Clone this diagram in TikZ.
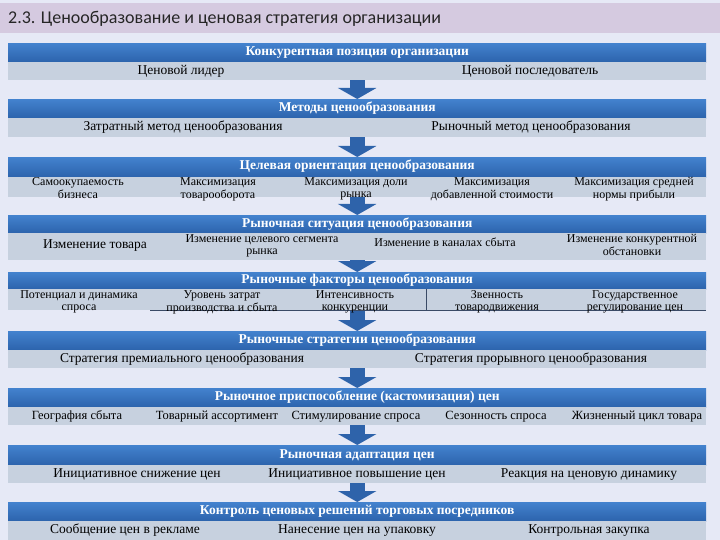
\documentclass[tikz,border=0pt]{standalone}
\usepackage{fontspec}
\setmainfont{Liberation Serif}
\newfontfamily\titlefont{Carlito}
\usetikzlibrary{arrows.meta}
\definecolor{bgc}{HTML}{E6E9F6}
\definecolor{titlec}{HTML}{D5CAE0}
\definecolor{hdrtop}{HTML}{4382CE}
\definecolor{hdrbot}{HTML}{2C63AC}
\definecolor{subc}{HTML}{C7D1DF}
\definecolor{arrc}{HTML}{2E63AA}
\definecolor{sepc}{HTML}{3A4A66}
\tikzset{
  hdr/.style={draw=none, top color=hdrtop, bottom color=hdrbot, minimum width=698pt,
    inner sep=0pt, text=white, font=\fontsize{13.5}{14}\selectfont\bfseries, anchor=north west,
    execute at begin node=\strut},
  subrow/.style={draw=none, fill=subc, minimum width=698pt, inner sep=0pt, anchor=north west},
  it/.style={font=\fontsize{13.5}{15}\selectfont, inner sep=0pt, text height=9.5pt, text depth=3.5pt},
  itm/.style={font=\fontsize{12.5}{14}\selectfont, inner sep=0pt, text height=9pt, text depth=3pt},
  it2/.style={font=\fontsize{12}{12}\selectfont, align=center, inner sep=0pt, anchor=north},
  arr/.style={draw=arrc, line width=15pt, -{Triangle[width=38pt,length=11pt]}},
  sepline/.style={draw=sepc, line width=0.6pt}
}
\newcommand\twol[2]{\strut#1\\\strut#2}
\begin{document}
\begin{tikzpicture}[x=1pt,y=-1pt]
\useasboundingbox (0,0) rectangle (720,540);
\fill[bgc] (0,0) rectangle (720,540);
\fill[titlec] (0,3) rectangle (720,33);
\node[anchor=west, inner sep=0pt, text=black!85, font=\titlefont\fontsize{18}{20}\selectfont] (title) at (8,19) {2.3. Ценообразование и ценовая стратегия организации};

% Header bars and rows
\node[hdr, minimum height=19pt] (h1) at (8,43) {Конкурентная позиция организации};
\node[subrow, minimum height=18pt] (s1) at (8,62) {};
\node[hdr, minimum height=19pt] (h2) at (8,99) {Методы ценообразования};
\node[subrow, minimum height=19pt] (s2) at (8,118) {};
\node[hdr, minimum height=20pt] (h3) at (8,157) {Целевая ориентация ценообразования};
\node[subrow, minimum height=20pt] (s3) at (8,177) {};
\node[hdr, minimum height=18pt] (h4) at (8,215) {Рыночная ситуация ценообразования};
\node[subrow, minimum height=27pt] (s4) at (8,233) {};
\node[hdr, minimum height=17pt] (h5) at (8,272) {Рыночные факторы ценообразования};
\node[subrow, minimum height=21pt] (s5) at (8,289) {};
\node[hdr, minimum height=19pt] (h6) at (8,331) {Рыночные стратегии ценообразования};
\node[subrow, minimum height=18pt] (s6) at (8,350) {};
\node[hdr, minimum height=19pt] (h7) at (8,388) {Рыночное приспособление (кастомизация) цен};
\node[subrow, minimum height=18pt] (s7) at (8,407) {};
\node[hdr, minimum height=20pt] (h8) at (8,445) {Рыночная адаптация цен};
\node[subrow, minimum height=18pt] (s8) at (8,465) {};
\node[hdr, minimum height=19pt] (h9) at (8,502) {Контроль ценовых решений торговых посредников};
\node[subrow, minimum height=19pt] (s9) at (8,521) {};

% Arrows
\draw[arr] (s1.south) -- (h2.north);
\draw[arr] (s2.south) -- (h3.north);
\draw[arr] (s3.south) -- (h4.north);
\draw[arr] (s4.south) -- (h5.north);
\draw[arr] (s5.south) -- (h6.north);
\draw[arr] (s6.south) -- (h7.north);
\draw[arr] (s7.south) -- (h8.north);
\draw[arr] (s8.south) -- (h9.north);

% Block 1
\node[it] (t11) at (181,71.5) {Ценовой лидер};
\node[it] (t12) at (530,71.5) {Ценовой последователь};

% Block 2
\node[it] (t21) at (183,128) {Затратный метод ценообразования};
\node[it] (t22) at (531,128) {Рыночный метод ценообразования};

% Block 3
\node[it2] (t31) at (78,176.5) {\twol{Самоокупаемость}{бизнеса}};
\node[it2] (t32) at (218,176.5) {\twol{Максимизация}{товарооборота}};
\node[it2] (t33) at (356,176.5) {\twol{Максимизация доли}{рынка}};
\node[it2] (t34) at (492,176.5) {\twol{Максимизация}{добавленной стоимости}};
\node[it2] (t35) at (634,176.5) {\twol{Максимизация средней}{нормы прибыли}};

% Block 4
\node[it] (t41) at (95,245) {Изменение товара};
\node[it2] (t42) at (262,234) {\twol{Изменение целевого сегмента}{рынка}};
\node[it2, anchor=center, text height=8.4pt, text depth=3.6pt] (t43) at (445,244) {Изменение в каналах сбыта};
\node[it2] (t44) at (632,234) {\twol{Изменение конкурентной}{обстановки}};

% Block 5
\coordinate (sepa) at (426,289);
\coordinate (sepb) at (426,310);
\coordinate (botl) at (150,310);
\coordinate (botr) at (706,310);
\draw[sepline] (sepa) -- (sepb);
\draw[sepline] (botl) -- (botr);
\node[it2] (t51) at (79,289.5) {\twol{Потенциал и динамика}{спроса}};
\node[it2] (t52) at (222,289.5) {\twol{Уровень затрат}{производства и сбыта}};
\node[it2] (t53) at (355,289.5) {\twol{Интенсивность}{конкуренции}};
\node[it2] (t54) at (497,289.5) {\twol{Звенность}{товародвижения}};
\node[it2] (t55) at (635,289.5) {\twol{Государственное}{регулирование цен}};

% Block 6
\node[it] (t61) at (182,359) {Стратегия премиального ценообразования};
\node[it] (t62) at (531,359) {Стратегия прорывного ценообразования};

% Block 7
\node[itm] (t71) at (77,416) {География сбыта};
\node[itm] (t72) at (217,416) {Товарный ассортимент};
\node[itm] (t73) at (356,416) {Стимулирование спроса};
\node[itm] (t74) at (496,416) {Сезонность спроса};
\node[itm] (t75) at (637,416) {Жизненный цикл товара};

% Block 8
\node[it] (t81) at (137,474) {Инициативное снижение цен};
\node[it] (t82) at (357,474) {Инициативное повышение цен};
\node[it] (t83) at (589,474) {Реакция на ценовую динамику};

% Block 9
\node[it] (t91) at (125,530.5) {Сообщение цен в рекламе};
\node[it] (t92) at (357,530.5) {Нанесение цен на упаковку};
\node[it] (t93) at (589,530.5) {Контрольная закупка};
\end{tikzpicture}
\end{document}
